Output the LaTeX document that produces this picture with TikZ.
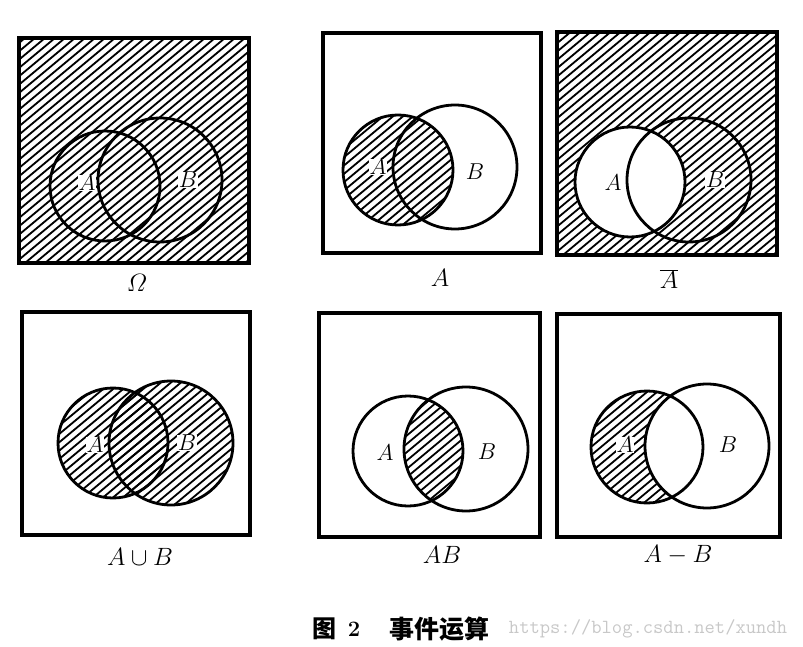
\RequirePackage{fix-cm}
\documentclass[tikz,border=0pt]{standalone}
\usepackage{fontspec}
\newfontfamily\cjk{Noto Sans CJK SC}
\definecolor{markgray}{RGB}{200,200,200}
\usetikzlibrary{positioning}

\newcommand{\hatchlines}[4]{%
  \foreach \hx in {-310,-300,...,240}
    \draw[hatch] ({#1+\hx},{#4+5}) -- ++(312,-260);%
}

\begin{document}
\begin{tikzpicture}[x=1pt, y=-1pt,
  frame/.style={draw=black, line width=3.4pt},
  ring/.style={draw=black, line width=2.8pt},
  hatch/.style={draw=black, line width=1.8pt},
  lab/.style={fill=white, inner sep=0.5pt, font=\fontsize{23}{26}\selectfont},
  caption/.style={inner sep=1pt, font=\fontsize{25}{28}\selectfont}
]
  \useasboundingbox (0,0) rectangle (803,647);

  % Omega
  \begin{scope}
    \clip (19,38) rectangle (249,263);
    \hatchlines{19}{38}{249}{263}
  \end{scope}
  \node[lab] (om-a) at (87,183) {$A$};
  \node[lab] (om-b) at (188,180) {$B$};
  \draw[ring] (105,186) circle[radius=55];
  \draw[ring] (160,180) circle[radius=62];
  \draw[frame] (19,38) rectangle (249,263);
  \node[caption] (om-cap) at (137,283) {$\mathnormal{\Omega}$};

  % A
  \begin{scope}
    \clip (398,170) circle[radius=55];
    \hatchlines{323}{33}{541}{253}
  \end{scope}
  \node[lab] (a-a) at (378,167) {$A$};
  \node[lab] (a-b) at (475,172) {$B$};
  \draw[ring] (398,170) circle[radius=55];
  \draw[ring] (455,167) circle[radius=62];
  \draw[frame] (323,33) rectangle (541,253);
  \node[caption] (a-cap) at (440,278) {$A$};

  % complement of A
  \begin{scope}[even odd rule]
    \clip (557,32) rectangle (777,255) (630,182) circle[radius=55];
    \hatchlines{557}{32}{777}{255}
  \end{scope}
  \node[lab] (na-a) at (613,183) {$A$};
  \node[lab] (na-b) at (715,180) {$B$};
  \draw[ring] (630,182) circle[radius=55];
  \draw[ring] (689,180) circle[radius=62];
  \draw[frame] (557,32) rectangle (777,255);
  \node[caption] (na-cap) at (669,279) {$\overline{A}$};

  % union
  \begin{scope}
    \clip (113,443) circle[radius=55];
    \hatchlines{22}{312}{250}{535}
  \end{scope}
  \begin{scope}
    \clip (171,443) circle[radius=62];
    \hatchlines{22}{312}{250}{535}
  \end{scope}
  \node[lab] (u-a) at (95,445) {$A$};
  \node[lab] (u-b) at (187,443) {$B$};
  \draw[ring] (113,443) circle[radius=55];
  \draw[ring] (171,443) circle[radius=62];
  \draw[frame] (22,312) rectangle (250,535);
  \node[caption] (u-cap) at (140,557) {$A\cup B$};

  % intersection
  \begin{scope}
    \clip (408,451) circle[radius=55];
    \clip (466,449) circle[radius=62];
    \hatchlines{319}{313}{540}{537}
  \end{scope}
  \node[lab] (i-a) at (385,453) {$A$};
  \node[lab] (i-b) at (487,452) {$B$};
  \draw[ring] (408,451) circle[radius=55];
  \draw[ring] (466,449) circle[radius=62];
  \draw[frame] (319,313) rectangle (540,537);
  \node[caption] (i-cap) at (442,555) {$AB$};

  % difference
  \begin{scope}[even odd rule]
    \clip (647,447) circle[radius=56];
    \clip (557,314) rectangle (780,537) (707,446) circle[radius=62];
    \hatchlines{557}{314}{780}{537}
  \end{scope}
  \node[lab] (d-a) at (625,445) {$A$};
  \node[lab] (d-b) at (728,445) {$B$};
  \draw[ring] (647,447) circle[radius=56];
  \draw[ring] (707,446) circle[radius=62];
  \draw[frame] (557,314) rectangle (780,537);
  \node[caption] (d-cap) at (678,555) {$A-B$};

  \node[font=\cjk\bfseries\fontsize{24}{26}\selectfont] (fig) at (324,629) {图};
  \node[font=\bfseries\fontsize{22}{26}\selectfont] (fignum) at (354,629) {2};
  \node[font=\cjk\bfseries\fontsize{25}{28}\selectfont] (figtitle) at (439,629) {事件运算};
  \node[font=\ttfamily\fontsize{20}{24}\selectfont, text=markgray] (mark) at (648,629)
    {https://blog.csdn.net/xundh};
\end{tikzpicture}
\end{document}
